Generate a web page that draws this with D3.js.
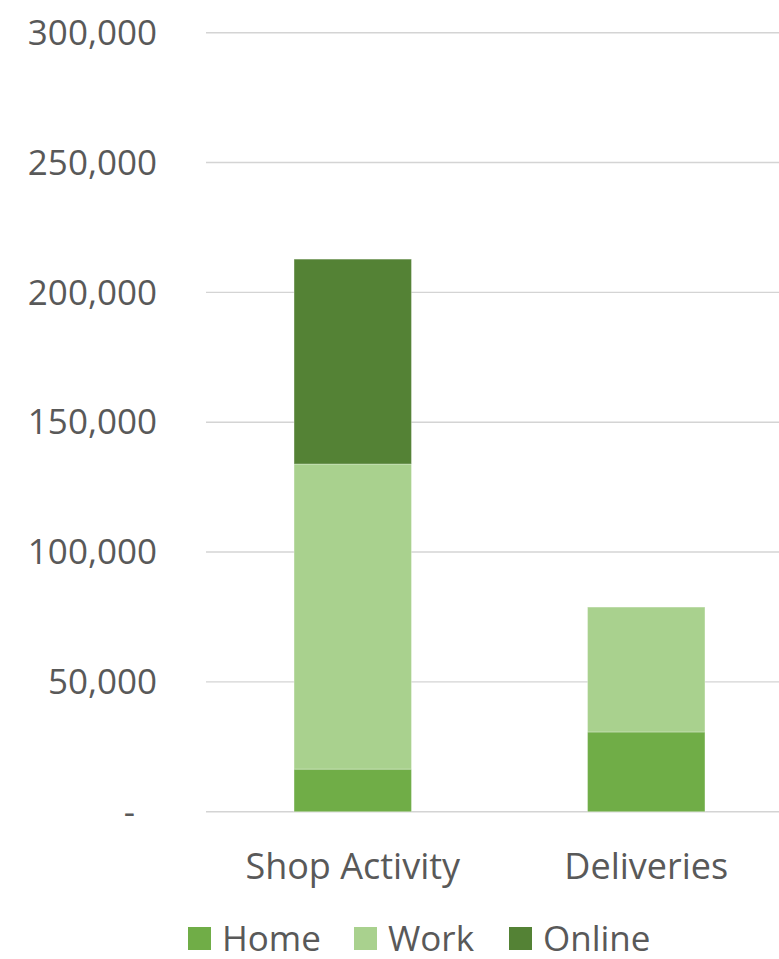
<!DOCTYPE html>
<html>
<head>
<meta charset="utf-8">
<script src="https://cdn.jsdelivr.net/npm/d3@7"></script>
<style>
  html, body { margin: 0; padding: 0; background: #fff; }
  svg { display: block; }
  text { font-family: "Open Sans", "Noto Sans", sans-serif; fill: #595959; }
</style>
</head>
<body>
<svg id="chart" width="779" height="959"></svg>
<script>
// Categories and stacked series
const categories = ["Shop Activity", "Deliveries"];
const seriesNames = ["Home", "Work", "Online"];
const homeValues = [16400, 30700];
const workValues = [117500, 48100];
const onlineValues = [78900, 0];
const seriesColors = ["#70AD47", "#A9D18E", "#548235"];
const yTicks = [0, 50000, 100000, 150000, 200000, 250000, 300000];

const rows = categories.map((c, i) => ({
  category: c,
  Home: homeValues[i],
  Work: workValues[i],
  Online: onlineValues[i]
}));

const svg = d3.select("#chart");
const plot = { left: 206, right: 793, top: 32.7, bottom: 811.7 };

const x = d3.scaleBand()
  .domain(categories)
  .range([plot.left, plot.right])
  .paddingInner(0.6)
  .paddingOuter(0.3);

const y = d3.scaleLinear()
  .domain([0, 300000])
  .range([plot.bottom, plot.top]);

const color = d3.scaleOrdinal().domain(seriesNames).range(seriesColors);

// Horizontal gridlines
svg.append("g")
  .selectAll("line")
  .data(yTicks)
  .join("line")
  .attr("x1", plot.left)
  .attr("x2", plot.right)
  .attr("y1", d => y(d))
  .attr("y2", d => y(d))
  .attr("stroke", "#d4d4d4")
  .attr("stroke-width", 1.4);

// Y axis labels
const fmt = d3.format(",");
svg.append("g")
  .selectAll("text")
  .data(yTicks)
  .join("text")
  .attr("x", d => d === 0 ? 135 : 157)
  .attr("y", d => y(d))
  .attr("dy", "0.35em")
  .attr("text-anchor", "end")
  .attr("font-size", 35)
  .text(d => d === 0 ? "-" : fmt(d));

// Stacked bars
const stacked = d3.stack().keys(seriesNames)(rows);
svg.append("g")
  .selectAll("g")
  .data(stacked)
  .join("g")
  .attr("fill", d => color(d.key))
  .selectAll("rect")
  .data(d => d.filter(s => s[1] - s[0] > 0))
  .join("rect")
  .attr("x", d => x(d.data.category))
  .attr("width", x.bandwidth())
  .attr("y", d => y(d[1]))
  .attr("height", d => y(d[0]) - y(d[1]))
  .attr("stroke", "#ffffff")
  .attr("stroke-opacity", 0.3)
  .attr("stroke-width", 1);

// Category labels
svg.append("g")
  .selectAll("text")
  .data(categories)
  .join("text")
  .attr("x", d => x(d) + x.bandwidth() / 2)
  .attr("y", 879)
  .attr("text-anchor", "middle")
  .attr("font-size", 36)
  .text(d => d);

// Legend
const legendX = [188, 354, 509];
const legend = svg.append("g")
  .selectAll("g")
  .data(seriesNames)
  .join("g")
  .attr("transform", (d, i) => `translate(${legendX[i]},927)`);
legend.append("rect")
  .attr("width", 23)
  .attr("height", 23)
  .attr("fill", d => color(d));
legend.append("text")
  .attr("x", 34)
  .attr("y", 23.5)
  .attr("font-size", 35)
  .text(d => d);
</script>
</body>
</html>
